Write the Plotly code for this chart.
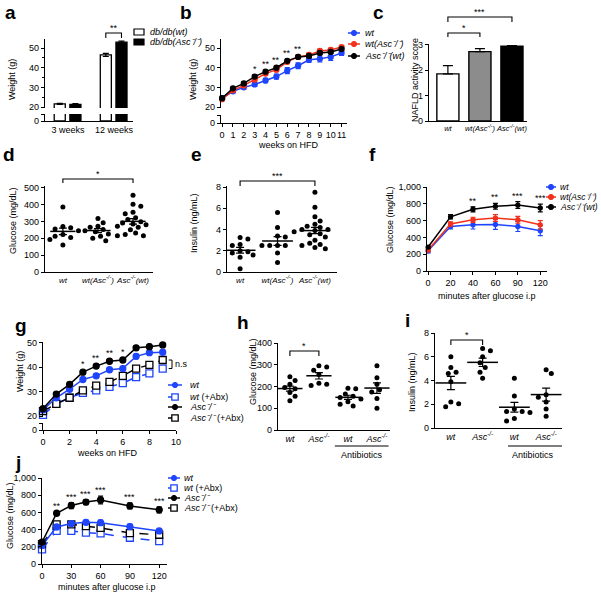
import numpy as np
import plotly.graph_objects as go

W, H = 601, 598
FONT = 'Arial, Liberation Sans, sans-serif'
BLUE = '#1f45fc'
RED = '#f2311c'
GREY = '#8c8c8c'
KO = 'Asc<sup>-/-</sup>'   # for tick labels
KOU = 'Asc⁻/⁻'             # for free text

# ---------------- data ----------------
# a: db/db mice body weight
a_groups = ['3 weeks', '12 weeks']
a_wt = [21.6, 46.5]
a_wt_err = [0.3, 0.8]
a_asc = [21.3, 53.0]
a_asc_err = [0.4, 0.5]

# b: weight on HFD, bone marrow chimeras
b_weeks = list(range(12))
b_wt = [24.5, 28.0, 30.0, 31.5, 33.5, 35.5, 38.5, 41.0, 44.0, 44.5, 45.5, 47.5]
b_wt_err = [0.8, 0.8, 0.9, 1.0, 1.1, 1.3, 1.5, 1.5, 1.3, 1.5, 1.8, 1.3]
b_wtasc = [24.0, 28.5, 31.0, 34.0, 37.0, 39.0, 43.0, 45.5, 46.5, 48.5, 49.0, 50.5]
b_wtasc_err = [0.6, 0.7, 0.7, 0.9, 0.9, 1.0, 1.0, 0.9, 0.9, 0.8, 0.8, 0.7]
b_ascwt = [24.5, 29.5, 32.0, 35.5, 38.0, 40.0, 43.5, 45.5, 46.0, 47.5, 48.0, 49.5]
b_ascwt_err = [0.6, 0.6, 0.7, 0.8, 0.8, 0.8, 0.8, 0.7, 0.7, 0.7, 0.7, 0.7]
b_star_weeks = [3, 4, 5, 6, 7]
b_star_text = ['*', '**', '**', '**', '**']

# c: NAFLD activity score
c_groups = ['<i>wt</i>', '<i>wt(' + KO + ')</i>', '<i>' + KO + '(wt)</i>']
c_score = [1.85, 2.72, 2.93]
c_err = [0.32, 0.12, 0.03]

# d: fasting glucose
chim_groups = ['<i>wt</i>', '<i>wt(' + KO + ')</i>', '<i>' + KO + '(wt)</i>']
d_wt = [385, 270, 262, 255, 245, 222, 212, 205, 192, 160]
d_wtasc = [318, 292, 272, 265, 252, 245, 238, 225, 212, 200, 185]
d_ascwt = [455, 402, 390, 355, 345, 322, 312, 298, 290, 285, 280, 272, 265,
           250, 232, 222, 215, 215]

# e: insulin
e_wt = [3.25, 3.1, 2.6, 2.5, 2.0, 1.9, 1.8, 1.6, 1.4, 0.3]
e_wtasc = [5.6, 4.2, 3.4, 3.3, 2.5, 2.5, 2.5, 2.5, 1.8, 0.9]
e_ascwt = [7.5, 6.1, 5.2, 4.8, 4.5, 4.3, 4.2, 4.0, 4.0, 3.9, 3.8, 3.6, 3.5,
           3.3, 3.0, 2.7, 2.6, 2.5, 2.3, 2.2]

# f: GTT chimeras
f_minutes = ['0', '20', '40', '60', '90', '120']
f_wt = [240, 530, 550, 555, 530, 480]
f_wt_err = [25, 30, 50, 60, 60, 60]
f_wtasc = [250, 560, 610, 630, 610, 550]
f_wtasc_err = [20, 25, 30, 40, 40, 50]
f_ascwt = [285, 645, 735, 770, 785, 750]
f_ascwt_err = [15, 25, 30, 35, 40, 45]
f_star_idx = [2, 3, 4, 5]
f_star_text = ['**', '**', '***', '***']

# g: weight on HFD with / without antibiotics
g_weeks = list(range(10))
g_wt = [22.5, 27.5, 31.0, 35.0, 36.5, 39.0, 39.5, 44.5, 46.0, 46.2]
g_wtabx = [20.5, 25.0, 27.5, 29.5, 30.5, 32.0, 33.5, 36.0, 37.5, 39.5]
g_asc = [23.0, 29.0, 33.0, 38.0, 40.5, 42.5, 43.0, 48.0, 48.5, 49.2]
g_ascabx = [22.0, 25.0, 27.5, 30.5, 32.5, 34.0, 36.5, 39.5, 41.0, 43.0]
g_err = [0.6, 0.7, 0.7, 0.8, 0.8, 0.9, 0.9, 0.9, 0.9, 0.9]
g_star_weeks = [3, 4, 5, 6]
g_star_text = ['*', '**', '**', '*']

# h: glucose, i: insulin (wt, Asc, wt+Abx, Asc+Abx)
abx_groups = ['<i>wt</i>', '<i>' + KO + '</i>', '<i>wt</i>', '<i>' + KO + '</i>']
h_wt = [245, 228, 210, 195, 190, 185, 172, 155, 135]
h_asc = [295, 290, 275, 255, 215, 210, 205]
h_wtabx = [192, 190, 165, 155, 150, 142, 130, 118, 110]
h_ascabx = [295, 240, 210, 185, 175, 145, 100]
i_wt = [6.0, 5.1, 4.7, 4.6, 3.9, 2.2, 2.05, 1.8]
i_asc = [6.7, 6.5, 6.0, 5.5, 5.1, 4.7, 4.2]
i_wtabx = [4.2, 2.7, 1.6, 1.4, 1.4, 1.3, 0.8, 0.6]
i_ascabx = [4.9, 4.6, 2.8, 2.6, 2.2, 1.6, 1.0]

# j: GTT with / without antibiotics
j_minutes = [0, 15, 30, 45, 60, 90, 120]
j_wt = [215, 430, 470, 485, 480, 435, 385]
j_wt_err = [15, 20, 25, 25, 30, 30, 20]
j_wtabx = [170, 385, 385, 365, 355, 305, 265]
j_wtabx_err = [20, 20, 25, 25, 20, 20, 20]
j_asc = [255, 590, 680, 720, 745, 675, 630]
j_asc_err = [15, 15, 35, 30, 45, 35, 35]
j_ascabx = [230, 460, 460, 440, 420, 360, 340]
j_ascabx_err = [20, 25, 25, 25, 25, 25, 25]
j_star_text = ['', '**', '***', '***', '***', '***', '***']

# ---------------- helpers ----------------
fig = go.Figure()
shapes, notes = [], []
geo = {}


def px(x):
    return x / W


def py(y):
    return 1 - y / H


def axes(n, x0, x1, y0, y1, xr, yr, xkw=None, ykw=None):
    s = '' if n == 1 else str(n)
    base = dict(showline=True, linecolor='black', linewidth=1.2, ticks='outside',
                ticklen=3, tickwidth=1.2, tickcolor='black', showgrid=False,
                zeroline=False, fixedrange=True, automargin=False, tickangle=0,
                tickfont=dict(size=9, color='black', family=FONT))
    xa = dict(base, domain=[px(x0), px(x1)], range=xr, anchor='y' + s)
    ya = dict(base, domain=[py(y1), py(y0)], range=yr, anchor='x' + s)
    xa.update(xkw or {})
    ya.update(ykw or {})
    fig.update_layout({'xaxis' + s: xa, 'yaxis' + s: ya})
    geo[n] = (x0, x1, y0, y1, xr, yr)
    # an empty trace so that the subplot is always drawn
    fig.add_trace(go.Scatter(x=[None], y=[None], xaxis='x' + s, yaxis='y' + s,
                             showlegend=False, hoverinfo='skip'))
    return 'x' + s, 'y' + s


def text(x, y, t, xref='paper', yref='paper', size=9, xanchor='center', yanchor='middle', **kw):
    if xref == 'paper':
        x = px(x)
    if yref == 'paper':
        y = py(y)
    notes.append(dict(x=x, y=y, xref=xref, yref=yref, text=t, showarrow=False,
                      xanchor=xanchor, yanchor=yanchor,
                      font=dict(size=size, color='black', family=FONT), **kw))


def ytitle(x, y, t):
    text(x, y, t, textangle=-90)


def series(ref, x, y, err, color, filled=True, dash='solid', symbol='circle', size=5):
    fig.add_trace(go.Scatter(
        x=x, y=y, mode='lines+markers', xaxis=ref[0], yaxis=ref[1], showlegend=False,
        line=dict(color=color, width=1.5, dash=dash),
        marker=dict(symbol=symbol, size=size, color=color if filled else 'white',
                    line=dict(color=color, width=1.3)),
        error_y=dict(type='data', array=err, color=color, thickness=1.2, width=2.5),
        cliponaxis=False))


def swarm(vals, n, gap=6.0, step=2.6):
    x0, x1, y0, y1, xr, yr = geo[n]
    ppx = (x1 - x0) / (xr[1] - xr[0])
    ppy = (y1 - y0) / (yr[1] - yr[0])
    placed, out, flip = [], [0.0] * len(vals), 1
    for i in sorted(range(len(vals)), key=lambda k: -vals[k]):
        yp = vals[i] * ppy
        k = 0
        while True:
            cands = [0.0] if k == 0 else [flip * k * step, -flip * k * step]
            ok = [c for c in cands
                  if all((c - a) ** 2 + (yp - b) ** 2 >= gap ** 2 for a, b in placed)]
            if ok:
                placed.append((ok[0], yp))
                out[i] = ok[0] / ppx
                if ok[0] != 0:
                    flip = -flip
                break
            k += 1
    return out


def dots(ref, n, groups, meanw):
    for p, vals in enumerate(groups):
        offs = swarm(vals, n)
        fig.add_trace(go.Scatter(
            x=[p + o for o in offs], y=vals, mode='markers', xaxis=ref[0], yaxis=ref[1],
            marker=dict(color='black', size=5), showlegend=False, cliponaxis=False))
        m = float(np.mean(vals))
        s = float(np.std(vals, ddof=1) / np.sqrt(len(vals)))
        fig.add_trace(go.Scatter(
            x=[p], y=[m], mode='markers', xaxis=ref[0], yaxis=ref[1], showlegend=False,
            marker=dict(symbol='line-ew', size=meanw, line=dict(color='black', width=1.5)),
            error_y=dict(type='data', array=[s], color='black', thickness=1.2, width=4)))


def bracket(xref, xa, xb, ytop, leg, t):
    shapes.append(dict(type='path', xref=xref, yref='paper',
                       path=f'M {xa},{py(ytop + leg)} L {xa},{py(ytop)} L {xb},{py(ytop)} L {xb},{py(ytop + leg)}',
                       line=dict(color='black', width=1.1)))
    text((xa + xb) / 2, ytop, t, xref=xref, yanchor='bottom', yshift=-2)


def stars(ref, xs, ys, labels):
    for x, y, t in zip(xs, ys, labels):
        if t:
            notes.append(dict(x=x, y=y, xref=ref[0], yref=ref[1], text=t, showarrow=False,
                              xanchor='center', yanchor='bottom', yshift=-1,
                              font=dict(size=9, color='black', family=FONT)))


def legend(x0, x1, xt, ys, rows, size=9):
    cx = (x0 + x1) / 2
    for y, (label, color, kind, dash) in zip(ys, rows):
        shapes.append(dict(type='line', xref='paper', yref='paper', x0=px(x0), x1=px(x1),
                           y0=py(y), y1=py(y), line=dict(color=color, width=1.5, dash=dash)))
        if kind == 'circle':
            r = 2.6
            shapes.append(dict(type='circle', xref='paper', yref='paper',
                               x0=px(cx - r), x1=px(cx + r), y0=py(y + r), y1=py(y - r),
                               fillcolor=color, line=dict(color=color, width=1)))
        else:
            r = 3.2
            shapes.append(dict(type='rect', xref='paper', yref='paper',
                               x0=px(cx - r), x1=px(cx + r), y0=py(y + r), y1=py(y - r),
                               fillcolor='white', line=dict(color=color, width=1.3)))
        text(xt, y, label, xanchor='left', size=size)


# ---------------- a ----------------
hidden_x = dict(visible=False)
a_up = axes(1, 45, 133, 39, 108, [-0.5, 1.41], [19.5, 54.6], hidden_x,
            dict(tickvals=[20, 30, 40, 50], minor=dict(ticks='outside', dtick=5, ticklen=2,
                                                       tickcolor='black')))
a_lo = axes(2, 45, 133, 114, 121, [-0.5, 1.41], [0, 3.5],
            dict(tickvals=[0, 1], ticktext=a_groups, ticks=''),
            dict(tickvals=[0, 3.5], ticktext=['0', ' ']))
for ref, err in [(a_up, True), (a_lo, False)]:
    fig.add_trace(go.Bar(x=[0, 1], y=a_wt, offset=-0.3, width=0.24, xaxis=ref[0], yaxis=ref[1],
                         marker=dict(color='white', line=dict(color='black', width=1.3)),
                         error_y=dict(type='data', array=a_wt_err, color='black', thickness=1.2,
                                      width=3, visible=err), showlegend=False))
    fig.add_trace(go.Bar(x=[0, 1], y=a_asc, offset=0.04, width=0.24, xaxis=ref[0], yaxis=ref[1],
                         marker=dict(color='black', line=dict(color='black', width=1.3)),
                         error_y=dict(type='data', array=a_asc_err, color='black', thickness=1.2,
                                      width=3, visible=err), showlegend=False))
bracket('x', 0.82, 1.16, 33, 5, '**')
ytitle(12, 80, 'Weight (g)')
for y, fill in [(32, 'white'), (42, 'black')]:
    shapes.append(dict(type='rect', xref='paper', yref='paper', x0=px(134), x1=px(144),
                       y0=py(y + 3), y1=py(y - 3), fillcolor=fill, line=dict(color='black', width=1.2)))
text(148, 32, '<i>db/db(wt)</i>', xanchor='left')
text(148, 42, '<i>db/db(' + KOU + ')</i>', xanchor='left')

# ---------------- b ----------------
b_up = axes(3, 221, 347, 39, 108, [-0.1, 11.5], [19.5, 54.6], hidden_x,
            dict(tickvals=[20, 30, 40, 50]))
b_lo = axes(4, 221, 347, 115, 123, [-0.1, 11.5], [0, 3.5],
            dict(tickvals=b_weeks),
            dict(tickvals=[0, 3.5], ticktext=['0', ' ']))
series(b_up, b_weeks, b_wt, b_wt_err, BLUE)
series(b_up, b_weeks, b_wtasc, b_wtasc_err, RED)
series(b_up, b_weeks, b_ascwt, b_ascwt_err, 'black')
stars(b_up, b_star_weeks,
      [max(b_ascwt[w] + b_ascwt_err[w], b_wtasc[w] + b_wtasc_err[w]) for w in b_star_weeks],
      b_star_text)
ytitle(193, 80, 'Weight (g)')
text(288, 145, 'weeks on HFD')
legend(348, 360, 363, [33, 44, 56],
       [('<i>wt</i>', BLUE, 'circle', 'solid'),
        ('<i>wt(' + KOU + ')</i>', RED, 'circle', 'solid'),
        ('<i>' + KOU + '(wt)</i>', 'black', 'circle', 'solid')])

# ---------------- c ----------------
small_ticks = dict(size=8, color='black', family=FONT)
c_ax = axes(5, 429, 527, 44, 121, [-0.59, 2.47], [0, 3.02],
            dict(tickvals=[0, 1, 2], ticktext=c_groups, ticks='',
                 tickfont=dict(size=7.5, color='black', family=FONT)),
            dict(tickvals=[0, 1, 2, 3]))
fig.add_trace(go.Bar(x=[0, 1, 2], y=c_score, width=0.69, xaxis=c_ax[0], yaxis=c_ax[1],
                     marker=dict(color=['white', GREY, 'black'], line=dict(color='black', width=1.4)),
                     error_y=dict(type='data', symmetric=False, array=c_err, arrayminus=[0, 0, 0],
                                  color='black', thickness=1.2, width=5), showlegend=False))
bracket('x5', 0, 1, 33, 4, '*')
bracket('x5', 0, 2, 17, 5, '***')
ytitle(415, 80, 'NAFLD activity score')

# ---------------- d ----------------
d_ax = axes(6, 45, 153, 186, 272, [-0.51, 2.57], [0, 510],
            dict(tickvals=[0, 1, 2], ticktext=chim_groups, ticks='', tickfont=small_ticks),
            dict(tickvals=[0, 100, 200, 300, 400, 500]))
dots(d_ax, 6, [d_wt, d_wtasc, d_ascwt], 18)
bracket('x6', 0, 2, 179, 4, '*')
ytitle(13, 221, 'Glucose (mg/dL)')

# ---------------- e ----------------
e_ax = axes(7, 227, 337, 186, 272, [-0.35, 2.59], [0, 8.1],
            dict(tickvals=[0, 1, 2], ticktext=chim_groups, ticks='', tickfont=small_ticks),
            dict(tickvals=[0, 2, 4, 6, 8]))
dots(e_ax, 7, [e_wt, e_wtasc, e_ascwt], 22)
bracket('x7', 0, 2, 181, 5, '***')
ytitle(194, 223, 'Insulin (ng/mL)')

# ---------------- f ----------------
f_ax = axes(8, 427, 547, 187, 271, [-0.05, 5.3], [0, 1000],
            dict(tickvals=list(range(6)), ticktext=f_minutes),
            dict(tickvals=[0, 200, 400, 600, 800, 1000], tickformat=','))
fx = list(range(6))
series(f_ax, fx, f_wt, f_wt_err, BLUE, size=4)
series(f_ax, fx, f_wtasc, f_wtasc_err, RED, size=4)
series(f_ax, fx, f_ascwt, f_ascwt_err, 'black', size=4)
stars(f_ax, f_star_idx, [f_ascwt[k] + f_ascwt_err[k] for k in f_star_idx], f_star_text)
ytitle(390, 220, 'Glucose (mg/dL)')
text(487, 296, 'minutes after glucose i.p')
legend(546, 556, 558, [187, 197, 207],
       [('<i>wt</i>', BLUE, 'circle', 'solid'),
        ('<i>wt(' + KOU + ')</i>', RED, 'circle', 'solid'),
        ('<i>' + KOU + '(wt)</i>', 'black', 'circle', 'solid')], size=8.5)

# ---------------- g ----------------
g_up = axes(9, 43, 176, 342, 417, [0, 10], [19.6, 50.4], hidden_x,
            dict(tickvals=[20, 30, 40, 50]))
g_lo = axes(10, 43, 176, 423, 430, [0, 10], [0, 3.5],
            dict(tickvals=[0, 2, 4, 6, 8, 10]),
            dict(tickvals=[0, 3.5], ticktext=['0', ' ']))
series(g_up, g_weeks, g_wtabx, g_err, BLUE, filled=False, dash='dash', symbol='square', size=7)
series(g_up, g_weeks, g_ascabx, g_err, 'black', filled=False, dash='dash', symbol='square', size=7)
series(g_up, g_weeks, g_wt, g_err, BLUE, size=6)
series(g_up, g_weeks, g_asc, g_err, 'black', size=6)
stars(g_up, g_star_weeks, [g_asc[w] + g_err[w] for w in g_star_weeks], g_star_text)
shapes.append(dict(type='path', xref='x9', yref='y9',
                   path=f'M 9.45,{g_ascabx[-1]} L 9.7,{g_ascabx[-1]} L 9.7,{g_wtabx[-1]} L 9.45,{g_wtabx[-1]}',
                   line=dict(color='black', width=1)))
text(9.75, (g_ascabx[-1] + g_wtabx[-1]) / 2, 'n.s', xref='x9', yref='y9', xanchor='left')
ytitle(20, 372, 'Weight (g)')
text(107, 453, 'weeks on HFD')
legend(168, 182, 188, [385, 397, 407, 418],
       [('<i>wt</i>', BLUE, 'circle', 'solid'),
        ('<i>wt</i> (+Abx)', BLUE, 'square', 'dash'),
        ('<i>' + KOU + '</i>', 'black', 'circle', 'solid'),
        ('<i>' + KOU + '</i> (+Abx)', 'black', 'square', 'dash')])

# ---------------- h ----------------
h_ax = axes(11, 278, 390, 343, 430, [-0.41, 3.45], [0, 400],
            dict(tickvals=[0, 1, 2, 3], ticktext=abx_groups, ticks=''),
            dict(tickvals=[0, 100, 200, 300, 400]))
dots(h_ax, 11, [h_wt, h_asc, h_wtabx, h_ascabx], 18)
bracket('x11', 0, 1, 351, 5, '*')
shapes.append(dict(type='line', xref='x11', yref='paper', x0=1.55, x1=3.4, y0=py(446), y1=py(446),
                   line=dict(color='black', width=1.2)))
text(2.48, 455, 'Antibiotics', xref='x11')
ytitle(253, 372, 'Glucose (mg/dL)')

# ---------------- i ----------------
i_ax = axes(12, 435, 562, 333, 428, [-0.5, 3.5], [0, 8],
            dict(tickvals=[0, 1, 2, 3], ticktext=abx_groups, ticks=''),
            dict(tickvals=[0, 2, 4, 6, 8]))
dots(i_ax, 12, [i_wt, i_asc, i_wtabx, i_ascabx], 22)
bracket('x12', 0, 1, 340, 5, '*')
shapes.append(dict(type='line', xref='x12', yref='paper', x0=1.8, x1=3.5, y0=py(446), y1=py(446),
                   line=dict(color='black', width=1.2)))
text(2.6, 455, 'Antibiotics', xref='x12')
ytitle(412, 382, 'Insulin (ng/mL)')

# ---------------- j ----------------
j_ax = axes(13, 42, 167, 478, 564, [0, 128], [0, 1000],
            dict(tickvals=[0, 30, 60, 90, 120]),
            dict(tickvals=[0, 200, 400, 600, 800, 1000], tickformat=','))
series(j_ax, j_minutes, j_wtabx, j_wtabx_err, BLUE, filled=False, dash='dash', symbol='square', size=7)
series(j_ax, j_minutes, j_ascabx, j_ascabx_err, 'black', filled=False, dash='dash', symbol='square', size=7)
series(j_ax, j_minutes, j_wt, j_wt_err, BLUE, size=6)
series(j_ax, j_minutes, j_asc, j_asc_err, 'black', size=6)
stars(j_ax, j_minutes, [a + b for a, b in zip(j_asc, j_asc_err)], j_star_text)
ytitle(10, 516, 'Glucose (mg/dL)')
text(107, 587, 'minutes after glucose i.p')
legend(168, 180, 182, [478, 488, 498, 508],
       [('<i>wt</i>', BLUE, 'circle', 'solid'),
        ('<i>wt</i> (+Abx)', BLUE, 'square', 'dash'),
        ('<i>' + KOU + '</i>', 'black', 'circle', 'solid'),
        ('<i>' + KOU + '</i> (+Abx)', 'black', 'square', 'dash')])

# ---------------- panel letters ----------------
for letter, x, y in [('a', 10, 13), ('b', 186, 13), ('c', 378, 13), ('d', 9, 155),
                     ('e', 196, 155), ('f', 372, 155), ('g', 21, 325), ('h', 243, 322),
                     ('i', 407, 320), ('j', 18, 462)]:
    text(x, y, '<b>' + letter + '</b>', size=19)

fig.update_layout(template='none', width=W, height=H, margin=dict(l=0, r=0, t=0, b=0, pad=0),
                  paper_bgcolor='white', plot_bgcolor='white', showlegend=False,
                  barmode='overlay', font=dict(family=FONT, size=9, color='black'),
                  shapes=shapes, annotations=notes)
# the page body has a default 8px margin; drop it so the figure sits at the window's corner
fig.write_html('out.html', config={'displayModeBar': False},
               post_script="document.body.style.margin='0';")
